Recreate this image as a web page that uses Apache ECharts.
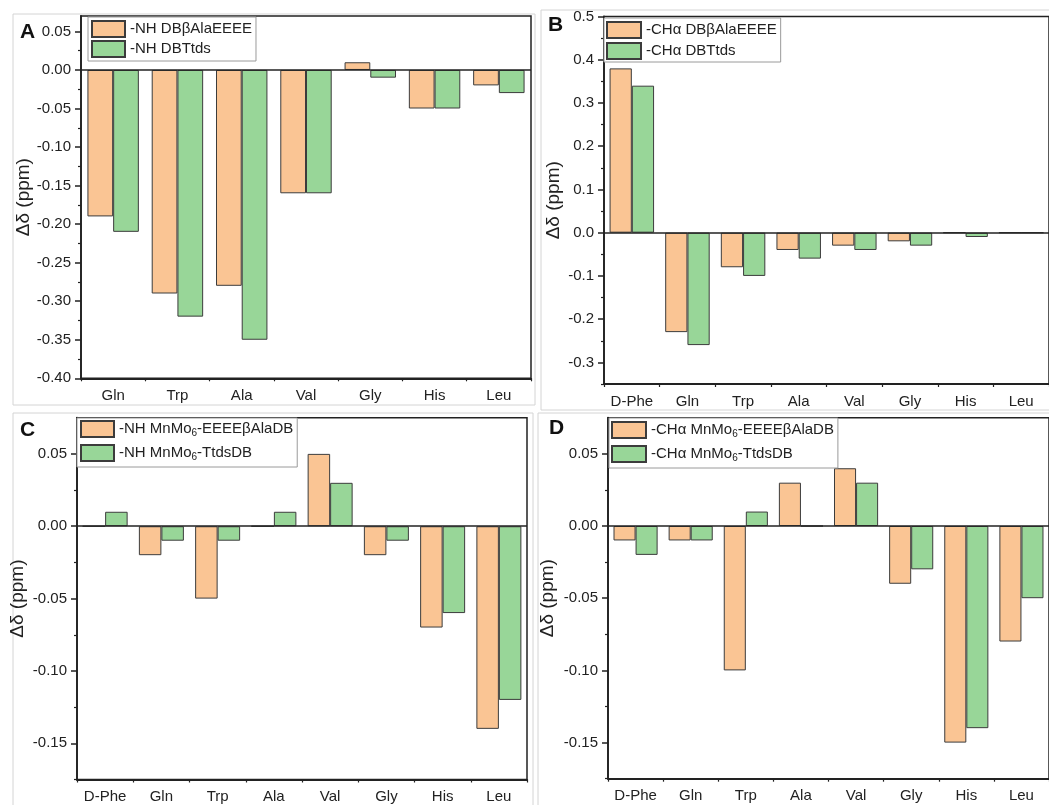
<!DOCTYPE html>
<html>
<head>
<meta charset="utf-8">
<script src="https://cdn.jsdelivr.net/npm/echarts@6/dist/echarts.min.js"></script>
<style>
html,body{margin:0;padding:0;background:#fff;}
#chart{width:1049px;height:805px;}
</style>
</head>
<body>
<div id="chart"></div>
<script>
// ---------------- DATA ----------------
const catsA = ['Gln', 'Trp', 'Ala', 'Val', 'Gly', 'His', 'Leu'];
const catsBCD = ['D-Phe', 'Gln', 'Trp', 'Ala', 'Val', 'Gly', 'His', 'Leu'];

const namesA = ['-NH DBβAlaEEEE', '-NH DBTtds'];
const valsA1 = [-0.19, -0.29, -0.28, -0.16, 0.01, -0.05, -0.02];
const valsA2 = [-0.21, -0.32, -0.35, -0.16, -0.01, -0.05, -0.03];

const namesB = ['-CHα DBβAlaEEEE', '-CHα DBTtds'];
const valsB1 = [0.38, -0.23, -0.08, -0.04, -0.03, -0.02, 0, 0];
const valsB2 = [0.34, -0.26, -0.10, -0.06, -0.04, -0.03, -0.01, 0];

const namesC = ['-NH MnMo₆-EEEEβAlaDB', '-NH MnMo₆-TtdsDB'];
const valsC1 = [0, -0.02, -0.05, 0, 0.05, -0.02, -0.07, -0.14];
const valsC2 = [0.01, -0.01, -0.01, 0.01, 0.03, -0.01, -0.06, -0.12];

const namesD = ['-CHα MnMo₆-EEEEβAlaDB', '-CHα MnMo₆-TtdsDB'];
const valsD1 = [-0.01, -0.01, -0.10, 0.03, 0.04, -0.04, -0.15, -0.08];
const valsD2 = [-0.02, -0.01, 0.01, 0, 0.03, -0.03, -0.14, -0.05];

const yTicksA = [0.05, 0.00, -0.05, -0.10, -0.15, -0.20, -0.25, -0.30, -0.35, -0.40];
const yMinorA = [0.025, -0.025, -0.075, -0.125, -0.175, -0.225, -0.275, -0.325, -0.375];
const yTicksB = [0.5, 0.4, 0.3, 0.2, 0.1, 0.0, -0.1, -0.2, -0.3];
const yMinorB = [0.45, 0.35, 0.25, 0.15, 0.05, -0.05, -0.15, -0.25, -0.35];
const yTicksCD = [0.05, 0.00, -0.05, -0.10, -0.15];
const yMinorCD = [0.025, -0.025, -0.075, -0.125, -0.175];

const panelLabels = ['A', 'B', 'C', 'D'];
const yAxisName = 'Δδ (ppm)';

// ---------------- STYLE / LAYOUT ----------------
const FONT = '"Liberation Sans", Arial, sans-serif';
const ORANGE = '#FAC594';
const GREEN = '#98D698';
const INK = '#222';

const panels = [
  {cats: catsA, names: namesA, v1: valsA1, v2: valsA2, min: -0.40, max: 0.07, ticks: yTicksA, minor: yMinorA, dec: 2,
   grid: {left: 81, top: 16, width: 450, height: 362.3}, nameGap: 45,
   legend: {left: 88, top: 17, padding: [3, 4, 3, 3], itemGap: 2, itemWidth: 33},
   label: {left: 20, top: 22}},
  {cats: catsBCD, names: namesB, v1: valsB1, v2: valsB2, min: -0.35, max: 0.5, ticks: yTicksB, minor: yMinorB, dec: 1,
   grid: {left: 604, top: 16.5, width: 454, height: 367.5}, nameGap: 41,
   legend: {left: 604, top: 18, padding: [3, 4, 2, 2], itemGap: 3, itemWidth: 34},
   label: {left: 548, top: 15}},
  {cats: catsBCD, names: namesC, v1: valsC1, v2: valsC2, min: -0.175, max: 0.075, ticks: yTicksCD, minor: yMinorCD, dec: 2,
   grid: {left: 77, top: 417.7, width: 450, height: 361.8}, nameGap: 50,
   legend: {left: 77, top: 418, padding: [2, 4, 5, 3], itemGap: 6, itemWidth: 33},
   label: {left: 20, top: 420}},
  {cats: catsBCD, names: namesD, v1: valsD1, v2: valsD2, min: -0.175, max: 0.075, ticks: yTicksCD, minor: yMinorCD, dec: 2,
   grid: {left: 608, top: 417.7, width: 448, height: 361}, nameGap: 51,
   legend: {left: 609, top: 418, padding: [3, 4, 5, 2], itemGap: 6, itemWidth: 34},
   label: {left: 549, top: 418}}
];

const option = {
  animation: false,
  backgroundColor: '#fff',
  textStyle: {fontFamily: FONT},
  grid: [], xAxis: [], yAxis: [], series: [], legend: [], title: [],
  graphic: [
    {type: 'rect', shape: {x: 13, y: 14, width: 522, height: 391}, style: {fill: 'none', stroke: '#d4d4d4', lineWidth: 1}, z: -1},
    {type: 'rect', shape: {x: 541, y: 10, width: 530, height: 400}, style: {fill: 'none', stroke: '#d4d4d4', lineWidth: 1}, z: -1},
    {type: 'rect', shape: {x: 13, y: 413, width: 520, height: 400}, style: {fill: 'none', stroke: '#d4d4d4', lineWidth: 1}, z: -1},
    {type: 'rect', shape: {x: 538, y: 413, width: 530, height: 400}, style: {fill: 'none', stroke: '#d4d4d4', lineWidth: 1}, z: -1}
  ]
};

panels.forEach((p, i) => {
  option.grid.push(Object.assign({show: true, borderColor: INK, borderWidth: 1.5, backgroundColor: 'transparent', containLabel: false}, p.grid));
  // main category axis (ticks at centres)
  option.xAxis.push({
    type: 'category', gridIndex: i, data: p.cats, position: 'bottom',
    axisLine: {onZero: false, lineStyle: {color: INK, width: 1.8}},
    axisTick: {alignWithLabel: true, length: 5, lineStyle: {color: INK, width: 1.5}},
    axisLabel: {color: INK, fontSize: 15, margin: 10, fontFamily: FONT, interval: 0},
    splitLine: {show: false}
  });
  // minor ticks at category boundaries
  option.xAxis.push({
    type: 'category', gridIndex: i, data: p.cats, position: 'bottom',
    axisLine: {show: false, onZero: false},
    axisTick: {show: true, alignWithLabel: false, length: 3, lineStyle: {color: INK, width: 1.2}},
    axisLabel: {show: false}, splitLine: {show: false}
  });
  option.yAxis.push({
    type: 'value', gridIndex: i, min: p.min, max: p.max, position: 'left',
    name: yAxisName, nameLocation: 'middle', nameGap: p.nameGap, nameRotate: 90,
    nameTextStyle: {color: INK, fontSize: 19, fontFamily: FONT},
    axisLine: {show: true, lineStyle: {color: INK, width: 1.8}},
    axisTick: {show: true, length: 6, customValues: p.ticks, lineStyle: {color: INK, width: 1.5}},
    axisLabel: {color: INK, fontSize: 15, margin: 10, fontFamily: FONT, customValues: p.ticks,
      formatter: v => Number(v).toFixed(p.dec)},
    splitLine: {show: false}
  });
  option.yAxis.push({
    type: 'value', gridIndex: i, min: p.min, max: p.max, position: 'left', offset: 0,
    axisLine: {show: false},
    axisTick: {show: true, length: 3, customValues: p.minor, lineStyle: {color: INK, width: 1.2}},
    axisLabel: {show: false, customValues: p.minor}, splitLine: {show: false}
  });
  const xi = i * 2, yi = i * 2;
  [[p.names[0], p.v1, ORANGE], [p.names[1], p.v2, GREEN]].forEach((s, k) => {
    const ser = {
      type: 'bar', name: s[0], data: s[1], xAxisIndex: xi, yAxisIndex: yi,
      barGap: '0%', barCategoryGap: '20%',
      itemStyle: {color: s[2], borderColor: '#3c3c3c', borderWidth: 1}
    };
    if (k === 1) {
      ser.markLine = {silent: true, symbol: ['none', 'none'], label: {show: false},
        lineStyle: {color: INK, width: 1.5, type: 'solid'}, data: [{yAxis: 0}]};
    }
    option.series.push(ser);
  });
  option.legend.push({
    data: p.names, orient: 'vertical', left: p.legend.left, top: p.legend.top,
    padding: p.legend.padding, itemGap: p.legend.itemGap, itemWidth: p.legend.itemWidth, itemHeight: 16,
    borderColor: '#9a9a9a', borderWidth: 1, backgroundColor: '#fff', selectedMode: false,
    icon: 'rect',
    formatter: n => n.replace('₆', '{sub|6}'),
    textStyle: {color: INK, fontSize: 15, fontFamily: FONT, lineHeight: 18,
      rich: {sub: {fontSize: 10, fontFamily: FONT, color: INK, lineHeight: 10, verticalAlign: 'bottom'}}}
  });
  option.title.push({
    text: panelLabels[i], left: p.label.left, top: p.label.top, padding: 0,
    textStyle: {fontSize: 21, fontWeight: 'bold', color: '#111', fontFamily: FONT, lineHeight: 21}
  });
});

const chart = echarts.init(document.getElementById('chart'), null, {renderer: 'canvas'});
chart.setOption(option);
</script>
</body>
</html>
